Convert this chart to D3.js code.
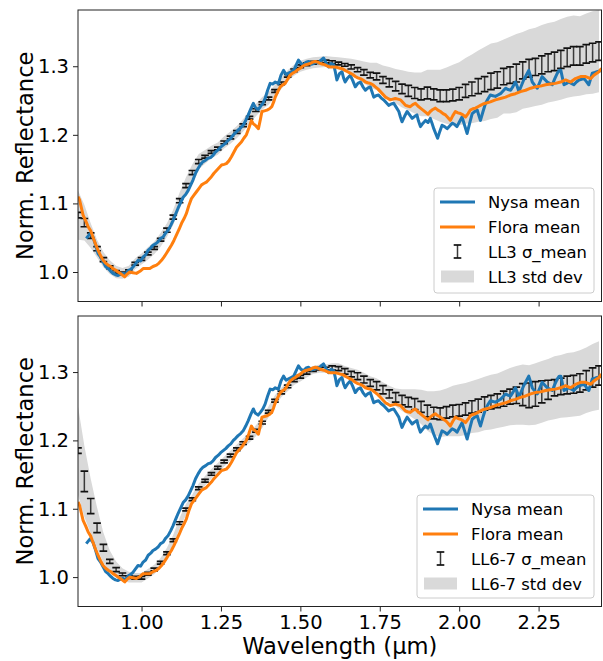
<!DOCTYPE html>
<html>
<head>
    <meta charset="utf-8">
    <title>Nysa / Flora vs LL chondrites</title>
    <script type="text/javascript" src="https://d3js.org/d3.v7.min.js"></script>
</head>
<body style="margin:0; background:#fff;">

<style>
svg { display: block; font-family: "DejaVu Sans", sans-serif; }
.tick line { stroke: #222; stroke-width: 1; }
.tick text { fill: #000; }
.spine { fill: none; stroke: #222; stroke-width: 1; }
.band { fill: #d9d9d9; stroke: none; }
.ebar { stroke: #3a3a3a; stroke-width: 1.5; }
.ecap { stroke: #111; stroke-width: 1.7; }
.spec { fill: none; stroke-width: 3; stroke-linejoin: round; }
</style>

<script type="text/javascript">
// ---- data ----
var llWave = [
    0.80,0.82,0.84,0.86,0.88,0.90,0.92,0.94,0.96,0.98,
    1.00,1.02,1.04,1.06,1.08,1.10,1.12,1.14,1.16,1.18,
    1.20,1.22,1.24,1.26,1.28,1.30,1.32,1.34,1.36,1.38,
    1.40,1.42,1.44,1.46,1.48,1.50,1.52,1.54,1.56,1.58,
    1.60,1.62,1.64,1.66,1.68,1.70,1.72,1.74,1.76,1.78,
    1.80,1.82,1.84,1.86,1.88,1.90,1.92,1.94,1.96,1.98,
    2.00,2.02,2.04,2.06,2.08,2.10,2.12,2.14,2.16,2.18,
    2.20,2.22,2.24,2.26,2.28,2.30,2.32,2.34,2.36,2.38,
    2.40,2.42,2.44];

var ll3Mean = [
    1.083,1.072,1.053,1.034,1.018,1.007,1.000,0.998,1.001,1.012,
    1.019,1.027,1.035,1.047,1.061,1.080,1.104,1.126,1.145,1.161,
    1.168,1.175,1.180,1.189,1.196,1.204,1.214,1.225,1.236,1.246,
    1.253,1.264,1.275,1.286,1.294,1.300,1.303,1.305,1.306,1.307,
    1.306,1.304,1.302,1.299,1.295,1.291,1.287,1.285,1.280,1.276,
    1.271,1.267,1.264,1.261,1.259,1.261,1.259,1.257,1.257,1.258,
    1.260,1.264,1.267,1.271,1.274,1.278,1.280,1.285,1.287,1.290,
    1.294,1.297,1.299,1.302,1.305,1.307,1.310,1.313,1.315,1.315,
    1.318,1.320,1.322];

var ll3Sigma = [
    0.004,0.006,0.004,0.003,0.003,0.002,0.002,0.002,0.002,0.002,
    0.002,0.002,0.002,0.002,0.003,0.003,0.003,0.003,0.003,0.003,
    0.002,0.002,0.002,0.002,0.002,0.002,0.002,0.002,0.002,0.002,
    0.002,0.002,0.002,0.002,0.002,0.002,0.002,0.002,0.002,0.002,
    0.002,0.002,0.002,0.003,0.003,0.004,0.004,0.005,0.005,0.006,
    0.007,0.007,0.008,0.008,0.008,0.0085,0.008,0.0085,0.0085,0.0085,
    0.009,0.0095,0.010,0.011,0.011,0.012,0.012,0.012,0.012,0.013,
    0.0125,0.013,0.0125,0.013,0.013,0.0135,0.013,0.0135,0.0135,0.0135,
    0.0135,0.0135,0.0135];

var ll3Std = [
    0.036,0.026,0.018,0.013,0.011,0.010,0.009,0.008,0.008,0.008,
    0.008,0.009,0.009,0.010,0.010,0.011,0.012,0.012,0.012,0.011,
    0.010,0.009,0.009,0.009,0.009,0.009,0.009,0.009,0.009,0.009,
    0.009,0.009,0.008,0.008,0.008,0.008,0.008,0.008,0.008,0.008,
    0.008,0.009,0.010,0.012,0.014,0.016,0.018,0.020,0.021,0.023,
    0.025,0.027,0.028,0.030,0.032,0.034,0.036,0.038,0.041,0.044,
    0.046,0.048,0.050,0.052,0.054,0.055,0.055,0.054,0.056,0.057,
    0.056,0.057,0.057,0.058,0.058,0.058,0.059,0.059,0.059,0.058,
    0.059,0.060,0.060];

var ll67Mean = [
    1.185,1.140,1.104,1.072,1.043,1.023,1.011,1.004,1.000,0.999,
    0.999,1.005,1.011,1.021,1.035,1.054,1.079,1.099,1.114,1.130,
    1.141,1.151,1.160,1.169,1.178,1.187,1.196,1.204,1.214,1.226,
    1.242,1.258,1.270,1.279,1.288,1.293,1.299,1.303,1.305,1.305,
    1.306,1.305,1.301,1.297,1.294,1.289,1.284,1.280,1.274,1.268,
    1.263,1.259,1.256,1.253,1.249,1.243,1.240,1.239,1.241,1.243,
    1.244,1.246,1.249,1.251,1.254,1.256,1.258,1.261,1.264,1.266,
    1.267,1.266,1.268,1.271,1.274,1.277,1.279,1.281,1.282,1.284,
    1.288,1.292,1.295];

var ll67Sigma = [
    0.004,0.015,0.011,0.007,0.005,0.003,0.003,0.002,0.002,0.002,
    0.002,0.002,0.002,0.002,0.002,0.002,0.002,0.002,0.002,0.002,
    0.002,0.002,0.002,0.002,0.002,0.002,0.002,0.002,0.002,0.002,
    0.002,0.002,0.002,0.002,0.002,0.002,0.002,0.002,0.002,0.002,
    0.003,0.003,0.004,0.004,0.005,0.005,0.005,0.006,0.006,0.006,
    0.007,0.007,0.007,0.008,0.008,0.0085,0.0085,0.0085,0.0085,0.0085,
    0.0085,0.009,0.009,0.0095,0.0098,0.010,0.010,0.011,0.011,0.012,
    0.016,0.018,0.018,0.016,0.014,0.012,0.012,0.013,0.013,0.0135,
    0.014,0.014,0.014];

var ll67Std = [
    0.065,0.052,0.040,0.030,0.022,0.016,0.012,0.009,0.008,0.007,
    0.007,0.007,0.007,0.007,0.008,0.008,0.008,0.008,0.007,0.007,
    0.007,0.007,0.007,0.007,0.007,0.007,0.007,0.007,0.008,0.008,
    0.008,0.008,0.007,0.007,0.007,0.007,0.007,0.006,0.006,0.006,
    0.007,0.008,0.008,0.009,0.0095,0.010,0.010,0.011,0.011,0.012,
    0.013,0.016,0.019,0.022,0.025,0.029,0.032,0.034,0.035,0.037,
    0.038,0.038,0.038,0.039,0.039,0.040,0.040,0.041,0.042,0.043,
    0.044,0.044,0.045,0.045,0.045,0.046,0.046,0.047,0.047,0.048,
    0.048,0.049,0.050];

// asteroid family means, [wavelength, reflectance]
var nysaMean = [
    [0.826,1.049],[0.838,1.056],[0.847,1.051],[0.855,1.040],[0.863,1.027],[0.871,1.022],[0.879,1.015],
    [0.887,1.008],[0.895,1.005],[0.903,1.001],[0.910,0.998],[0.918,0.996],[0.926,0.995],[0.934,0.997],
    [0.942,0.998],[0.950,0.996],[0.958,1.002],[0.966,1.004],[0.973,1.007],[0.981,1.012],[0.989,1.017],
    [0.997,1.016],[1.005,1.022],[1.013,1.025],[1.021,1.032],[1.029,1.035],[1.036,1.039],[1.044,1.041],
    [1.052,1.044],[1.060,1.049],[1.068,1.051],[1.076,1.057],[1.084,1.061],[1.092,1.068],[1.099,1.075],
    [1.107,1.084],[1.115,1.093],[1.123,1.101],[1.131,1.109],[1.139,1.113],[1.147,1.119],[1.155,1.127],
    [1.162,1.134],[1.170,1.144],[1.178,1.151],[1.186,1.157],[1.194,1.161],[1.202,1.163],[1.210,1.166],
    [1.218,1.167],[1.225,1.170],[1.233,1.175],[1.241,1.178],[1.249,1.182],[1.257,1.185],[1.265,1.188],
    [1.273,1.192],[1.281,1.195],[1.289,1.200],[1.296,1.203],[1.304,1.207],[1.312,1.210],[1.320,1.214],
    [1.328,1.221],[1.336,1.229],[1.344,1.238],[1.352,1.246],[1.358,1.240],[1.367,1.237],[1.374,1.241],
    [1.382,1.246],[1.389,1.253],[1.397,1.265],[1.405,1.275],[1.413,1.274],[1.421,1.277],[1.431,1.275],
    [1.439,1.287],[1.447,1.294],[1.455,1.288],[1.463,1.290],[1.471,1.292],[1.479,1.294],[1.487,1.302],
    [1.494,1.309],[1.502,1.304],[1.510,1.302],[1.518,1.306],[1.526,1.307],[1.534,1.303],[1.542,1.304],
    [1.550,1.306],[1.557,1.305],[1.565,1.309],[1.573,1.312],[1.581,1.305],[1.589,1.299],[1.597,1.304],
    [1.605,1.302],[1.610,1.292],[1.615,1.280],[1.623,1.289],[1.631,1.292],[1.636,1.283],[1.641,1.277],
    [1.649,1.283],[1.657,1.287],[1.665,1.279],[1.673,1.270],[1.681,1.275],[1.689,1.277],[1.697,1.270],
    [1.705,1.265],[1.712,1.268],[1.720,1.270],[1.726,1.262],[1.731,1.255],[1.738,1.257],[1.746,1.258],
    [1.754,1.254],[1.762,1.251],[1.770,1.247],[1.778,1.243],[1.786,1.245],[1.794,1.246],[1.802,1.240],
    [1.810,1.234],[1.815,1.226],[1.820,1.219],[1.828,1.227],[1.836,1.234],[1.844,1.229],[1.852,1.224],
    [1.860,1.227],[1.867,1.229],[1.872,1.220],[1.878,1.212],[1.886,1.217],[1.894,1.221],[1.902,1.218],
    [1.909,1.224],[1.915,1.216],[1.920,1.209],[1.926,1.202],[1.932,1.195],[1.939,1.205],[1.946,1.214],
    [1.954,1.212],[1.962,1.209],[1.970,1.213],[1.978,1.217],[1.986,1.215],[1.993,1.212],[2.001,1.219],
    [2.009,1.226],[2.017,1.214],[2.025,1.202],[2.033,1.217],[2.041,1.231],[2.049,1.234],[2.057,1.236],
    [2.062,1.228],[2.067,1.221],[2.075,1.234],[2.083,1.246],[2.090,1.252],[2.098,1.258],[2.106,1.257],
    [2.114,1.256],[2.122,1.258],[2.130,1.260],[2.138,1.264],[2.146,1.268],[2.154,1.266],[2.162,1.265],
    [2.170,1.271],[2.177,1.277],[2.183,1.270],[2.188,1.263],[2.196,1.272],[2.203,1.280],[2.211,1.287],
    [2.219,1.294],[2.225,1.285],[2.230,1.277],[2.238,1.272],[2.246,1.268],[2.254,1.277],[2.261,1.285],
    [2.269,1.281],[2.277,1.277],[2.285,1.275],[2.293,1.273],[2.301,1.282],[2.309,1.290],[2.315,1.294],
    [2.320,1.294],[2.325,1.283],[2.330,1.273],[2.338,1.275],[2.345,1.277],[2.353,1.275],[2.361,1.273],
    [2.369,1.277],[2.377,1.280],[2.385,1.281],[2.393,1.282],[2.400,1.278],[2.408,1.273],[2.414,1.282],
    [2.419,1.290],[2.427,1.291],[2.434,1.292],[2.442,1.293],[2.448,1.294]];

var floraMean = [
    [0.800,1.110],[0.805,1.105],[0.816,1.083],[0.824,1.075],[0.832,1.066],[0.840,1.060],[0.847,1.051],
    [0.855,1.041],[0.863,1.032],[0.871,1.024],[0.879,1.017],[0.887,1.013],[0.895,1.010],[0.903,1.008],
    [0.910,1.005],[0.918,1.003],[0.926,1.000],[0.936,0.997],[0.947,0.993],[0.955,0.997],[0.963,1.000],
    [0.973,0.999],[0.984,0.998],[0.995,1.001],[1.005,1.005],[1.016,1.005],[1.026,1.005],[1.036,1.008],
    [1.047,1.010],[1.055,1.013],[1.063,1.017],[1.071,1.022],[1.078,1.027],[1.086,1.033],[1.094,1.039],
    [1.102,1.046],[1.110,1.054],[1.118,1.062],[1.126,1.071],[1.134,1.078],[1.141,1.085],[1.149,1.097],
    [1.157,1.107],[1.165,1.112],[1.173,1.117],[1.181,1.122],[1.189,1.127],[1.196,1.129],[1.204,1.131],
    [1.212,1.135],[1.220,1.139],[1.228,1.144],[1.236,1.148],[1.244,1.152],[1.252,1.156],[1.260,1.157],
    [1.267,1.158],[1.275,1.162],[1.283,1.168],[1.291,1.175],[1.299,1.182],[1.307,1.186],[1.315,1.190],
    [1.322,1.195],[1.330,1.200],[1.338,1.210],[1.346,1.221],[1.352,1.216],[1.358,1.214],[1.368,1.209],
    [1.374,1.222],[1.379,1.234],[1.387,1.235],[1.395,1.236],[1.403,1.238],[1.410,1.241],[1.416,1.248],
    [1.421,1.255],[1.429,1.263],[1.437,1.270],[1.445,1.273],[1.452,1.275],[1.460,1.281],[1.468,1.287],
    [1.476,1.290],[1.484,1.292],[1.492,1.295],[1.500,1.297],[1.507,1.300],[1.515,1.302],[1.523,1.303],
    [1.531,1.304],[1.539,1.306],[1.547,1.307],[1.555,1.306],[1.563,1.304],[1.571,1.303],[1.578,1.302],
    [1.586,1.300],[1.594,1.299],[1.602,1.299],[1.610,1.299],[1.618,1.298],[1.626,1.297],[1.634,1.296],
    [1.641,1.294],[1.649,1.292],[1.657,1.290],[1.665,1.288],[1.673,1.285],[1.681,1.283],[1.689,1.282],
    [1.697,1.280],[1.705,1.277],[1.712,1.276],[1.720,1.275],[1.728,1.273],[1.736,1.270],[1.744,1.267],
    [1.752,1.263],[1.760,1.259],[1.768,1.255],[1.776,1.253],[1.783,1.251],[1.791,1.252],[1.799,1.253],
    [1.807,1.252],[1.815,1.251],[1.823,1.247],[1.831,1.243],[1.838,1.242],[1.846,1.241],[1.854,1.244],
    [1.862,1.246],[1.870,1.242],[1.878,1.239],[1.886,1.236],[1.894,1.233],[1.902,1.230],[1.909,1.234],
    [1.917,1.237],[1.925,1.239],[1.933,1.236],[1.941,1.234],[1.949,1.231],[1.957,1.229],[1.965,1.225],
    [1.972,1.221],[1.980,1.228],[1.988,1.234],[1.996,1.232],[2.004,1.231],[2.012,1.229],[2.020,1.226],
    [2.028,1.231],[2.035,1.236],[2.043,1.238],[2.051,1.239],[2.059,1.241],[2.067,1.243],[2.075,1.245],
    [2.083,1.246],[2.098,1.248],[2.114,1.251],[2.130,1.253],[2.146,1.255],[2.161,1.258],[2.177,1.260],
    [2.193,1.263],[2.209,1.265],[2.225,1.268],[2.240,1.270],[2.256,1.271],[2.272,1.273],[2.288,1.274],
    [2.303,1.275],[2.319,1.277],[2.335,1.280],[2.351,1.277],[2.366,1.282],[2.382,1.285],[2.398,1.285],
    [2.414,1.282],[2.424,1.287],[2.440,1.292],[2.448,1.297]];

var xTicks = [1.00, 1.25, 1.50, 1.75, 2.00, 2.25];
var yTicks = [1.0, 1.1, 1.2, 1.3];

// ---- layout ----
var width = 603,
    height = 661,
    left = 78,
    right = 601.5,
    tickFont = 19.5,
    labelFont = 22.6,
    legendFont = 16.4,
    capHalf = 3.8;

var x = d3.scaleLinear()
    .domain([0.80, 2.448])
    .range([left, right]);

var panels = [
    {name: "LL3", mean: ll3Mean, sigma: ll3Sigma, std: ll3Std,
     top: 10, bottom: 301.5, xLabels: false,
     legend: {x: 434, y: 188, w: 160, h: 105}},
    {name: "LL6-7", mean: ll67Mean, sigma: ll67Sigma, std: ll67Std,
     top: 316, bottom: 606.5, xLabels: true,
     legend: {x: 417, y: 495, w: 177, h: 103}}
];

var svg = d3.select("body").append("svg")
    .attr("width", width)
    .attr("height", height);

panels.forEach(function(p, i){
    renderPanel(p, i);
});

svg.append("text")
    .attr("x", (left + right) / 2)
    .attr("y", 654)
    .attr("text-anchor", "middle")
    .style("font-size", labelFont + "px")
    .text("Wavelength (\u00b5m)");

function renderPanel(p, i){
    var y = d3.scaleLinear()
        .domain([0.957, 1.382])
        .range([p.bottom, p.top]);

    var g = svg.append("g");

    svg.append("clipPath")
        .attr("id", "clip" + i)
      .append("rect")
        .attr("x", left)
        .attr("y", p.top)
        .attr("width", right - left)
        .attr("height", p.bottom - p.top);

    var plot = g.append("g").attr("clip-path", "url(#clip" + i + ")");

    var rows = llWave.map(function(w, k){
        return {w: w, m: p.mean[k], s: p.sigma[k], sd: p.std[k]};
    });

    // std dev band
    var area = d3.area()
        .x(function(d){ return x(d.w); })
        .y0(function(d){ return y(d.m - d.sd); })
        .y1(function(d){ return y(d.m + d.sd); });

    plot.append("path")
        .attr("class", "band")
        .attr("d", area(rows));

    // sigma_mean error bars
    var bars = plot.selectAll("g.err")
        .data(rows)
        .enter().append("g")
        .attr("class", "err");

    bars.append("line")
        .attr("class", "ebar")
        .attr("x1", function(d){ return x(d.w); })
        .attr("x2", function(d){ return x(d.w); })
        .attr("y1", function(d){ return y(d.m - d.s); })
        .attr("y2", function(d){ return y(d.m + d.s); });

    [-1, 1].forEach(function(sign){
        bars.append("line")
            .attr("class", "ecap")
            .attr("x1", function(d){ return x(d.w) - capHalf; })
            .attr("x2", function(d){ return x(d.w) + capHalf; })
            .attr("y1", function(d){ return y(d.m + sign * d.s); })
            .attr("y2", function(d){ return y(d.m + sign * d.s); });
    });

    // family spectra
    var line = d3.line()
        .x(function(d){ return x(d[0]); })
        .y(function(d){ return y(d[1]); });

    plot.append("path")
        .attr("class", "spec")
        .attr("stroke", "#1f77b4")
        .attr("d", line(nysaMean));

    plot.append("path")
        .attr("class", "spec")
        .attr("stroke", "#ff7f0e")
        .attr("d", line(floraMean));

    // axes
    var xAxis = d3.axisBottom(x)
        .tickValues(xTicks)
        .tickSize(5)
        .tickPadding(4)
        .tickFormat(p.xLabels ? d3.format(".2f") : function(){ return ""; });

    var yAxis = d3.axisLeft(y)
        .tickValues(yTicks)
        .tickSize(5)
        .tickPadding(4)
        .tickFormat(d3.format(".1f"));

    var gx = g.append("g")
        .attr("transform", "translate(0," + p.bottom + ")")
        .call(xAxis);
    var gy = g.append("g")
        .attr("transform", "translate(" + left + ",0)")
        .call(yAxis);

    [gx, gy].forEach(function(a){
        a.select(".domain").remove();
        a.attr("font-family", null).attr("font-size", null);
        a.selectAll("text").style("font-size", tickFont + "px");
    });

    g.append("rect")
        .attr("class", "spine")
        .attr("x", left)
        .attr("y", p.top)
        .attr("width", right - left)
        .attr("height", p.bottom - p.top);

    g.append("text")
        .attr("transform", "translate(33," + ((p.top + p.bottom) / 2) + ") rotate(-90)")
        .attr("text-anchor", "middle")
        .style("font-size", labelFont + "px")
        .text("Norm. Reflectance");

    renderLegend(g, p);
}

function renderLegend(g, p){
    var L = p.legend;
    var lg = g.append("g").attr("transform", "translate(" + L.x + "," + L.y + ")");

    lg.append("rect")
        .attr("width", L.w)
        .attr("height", L.h)
        .attr("rx", 3)
        .attr("fill", "#fff")
        .attr("fill-opacity", 0.85)
        .attr("stroke", "#cccccc")
        .attr("stroke-width", 1);

    var rowY = [14, 39, 63.5, 88.5],
        hx0 = 6, hx1 = 41, tx = 54;

    lg.append("line").attr("x1", hx0).attr("x2", hx1)
        .attr("y1", rowY[0]).attr("y2", rowY[0])
        .attr("stroke", "#1f77b4").attr("stroke-width", 3);
    lg.append("line").attr("x1", hx0).attr("x2", hx1)
        .attr("y1", rowY[1]).attr("y2", rowY[1])
        .attr("stroke", "#ff7f0e").attr("stroke-width", 3);

    var cx = (hx0 + hx1) / 2;
    lg.append("line").attr("class", "ebar")
        .attr("x1", cx).attr("x2", cx)
        .attr("y1", rowY[2] - 6.5).attr("y2", rowY[2] + 6.5);
    [-6.5, 6.5].forEach(function(dy){
        lg.append("line").attr("class", "ecap")
            .attr("x1", cx - capHalf).attr("x2", cx + capHalf)
            .attr("y1", rowY[2] + dy).attr("y2", rowY[2] + dy);
    });

    lg.append("rect").attr("class", "band")
        .attr("x", hx0 + 1).attr("y", rowY[3] - 6)
        .attr("width", hx1 - hx0 - 2).attr("height", 12);

    var labels = ["Nysa mean", "Flora mean",
                  p.name + " \u03c3_mean", p.name + " std dev"];

    lg.selectAll("text.leg")
        .data(labels)
        .enter().append("text")
        .attr("class", "leg")
        .attr("x", tx)
        .attr("y", function(d, k){ return rowY[k] + 6; })
        .style("font-size", legendFont + "px")
        .text(function(d){ return d; });
}
</script>

</body>
</html>
